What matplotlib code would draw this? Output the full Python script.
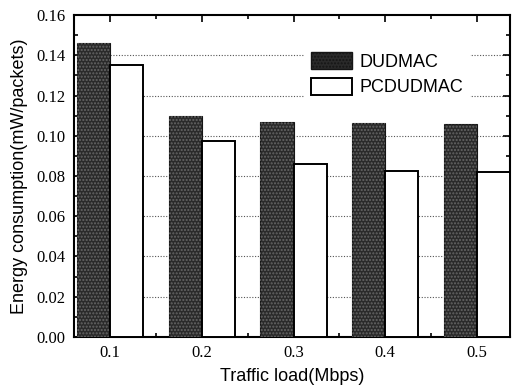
import numpy as np
import matplotlib.pyplot as plt
from matplotlib.ticker import MultipleLocator, FixedLocator
from matplotlib.patches import Patch

loads = [0.1, 0.2, 0.3, 0.4, 0.5]
dudmac = [0.146, 0.110, 0.107, 0.1065, 0.1057]
pcdudmac = [0.135, 0.0975, 0.086, 0.0827, 0.0818]
tick_labels = ['0.1', '0.2', '0.3', '0.4', '0.5']

serif = 'Liberation Serif'
sans = 'Liberation Sans'

fig = plt.figure(figsize=(5.13, 3.89), dpi=100)
ax = fig.add_axes([0.1442, 0.1337, 0.85, 0.8277])

w = 0.036
x = np.array(loads)
# dark textured bars
ax.bar(x - w/2, dudmac, w, color='#2a2a2a', edgecolor='#151515', linewidth=0.8, zorder=3)
ax.bar(x - w/2, dudmac, w, color='none', edgecolor='#666666', hatch='.....', linewidth=0, zorder=3)
ax.bar(x + w/2, pcdudmac, w, color='white', edgecolor='black', linewidth=1.4, zorder=3)

ax.set_xlim(0.0607, 0.536)
ax.set_ylim(0, 0.16)

# dotted grid behind bars
for gy in np.arange(0.02, 0.15, 0.02):
    ax.axhline(gy, color='#555555', linestyle=(0, (1, 1.5)), linewidth=0.8, zorder=1)

ax.set_xticks(loads)
ax.set_xticklabels(tick_labels, fontfamily=serif, fontsize=12)
ax.xaxis.set_minor_locator(FixedLocator([0.15, 0.25, 0.35, 0.45]))
ax.yaxis.set_minor_locator(MultipleLocator(0.01))
ax.set_yticks(np.arange(0, 0.161, 0.02))
ax.set_yticklabels(['%.2f' % v for v in np.arange(0, 0.161, 0.02)], fontfamily=serif, fontsize=12)

ax.tick_params(which='both', direction='in', top=True, right=True, width=1.2)
ax.tick_params(which='major', length=5, pad=6)
ax.tick_params(which='minor', length=3)
for s in ax.spines.values():
    s.set_linewidth(1.5)

ax.set_xlabel('Traffic load(Mbps)', fontfamily=sans, fontsize=13, labelpad=5)
ax.set_ylabel('Energy consumption(mW/packets)', fontfamily=sans, fontsize=13, labelpad=6)

handles = [Patch(facecolor='#2a2a2a', edgecolor='#151515', hatch='.....', label='DUDMAC'),
           Patch(facecolor='white', edgecolor='black', linewidth=1.4, label='PCDUDMAC')]
leg = ax.legend(handles=handles, loc='upper left', bbox_to_anchor=(0.51, 0.93),
                frameon=True, framealpha=1, edgecolor='white', fancybox=False,
                prop={'family': sans, 'size': 13}, handlelength=2.3, handleheight=1.05,
                handletextpad=0.4, labelspacing=0.4, borderpad=0.3)
leg.set_zorder(5)

fig.savefig('out.png', dpi=100)
